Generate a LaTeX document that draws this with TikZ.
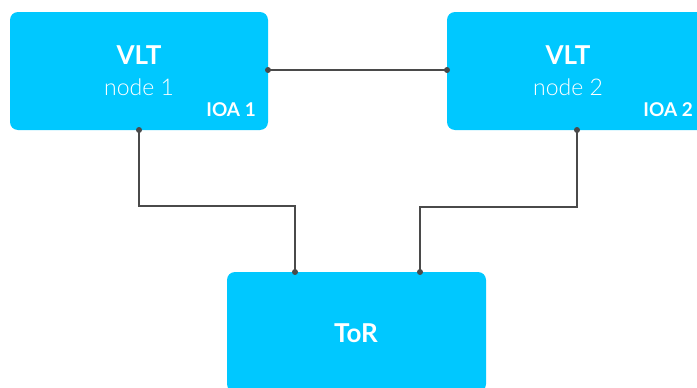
\documentclass[tikz,border=0pt]{standalone}
\usepackage{fontspec}
\setmainfont{Lato}
\newfontfamily\lightfont{Lato Light}
\definecolor{boxcyan}{HTML}{00C8FF}
\definecolor{wire}{HTML}{4A4A4A}
\begin{document}
\begin{tikzpicture}[x=1pt,y=-1pt,
  box/.style={fill=boxcyan,rounded corners=8pt,draw=none},
  link/.style={draw=wire,line width=1.4pt},
  dot/.style={circle,fill=wire,inner sep=0pt,minimum size=6pt},
  title/.style={text=white,font=\bfseries\fontsize{26}{30}\selectfont,inner sep=0pt},
  sub/.style={text=white,font=\lightfont\fontsize{23}{27}\selectfont,inner sep=0pt},
  ioa/.style={text=white,font=\bfseries\fontsize{19}{22}\selectfont,inner sep=0pt,anchor=east}]
\useasboundingbox (0,0) rectangle (697,388);
\clip (0,0) rectangle (697,388);
\fill[white] (0,0) rectangle (697,388);
\path[box] (10,12) rectangle (268,130);
\path[box] (447,12) rectangle (705,130);
\path[box] (227,272) rectangle (486,392);
\node[title] (t1) at (139,55) {VLT};
\node[sub] (s1) at (139,87) {node 1};
\node[ioa] (i1) at (256,110) {IOA 1};
\node[title] (t2) at (568,55) {VLT};
\node[sub] (s2) at (568,87) {node 2};
\node[ioa] (i2) at (693,110) {IOA 2};
\node[title] (tor) at (356,333) {ToR};
\coordinate (a1) at (268,70);
\coordinate (a2) at (447,70);
\coordinate (b1) at (139,130);
\coordinate (b2) at (577,130);
\coordinate (c1) at (295,272);
\coordinate (c2) at (420,272);
\draw[link] (a1) -- (a2);
\draw[link] (b1) |- (295,206) -- (c1);
\draw[link] (b2) |- (420,207) -- (c2);
\foreach \p in {a1,a2,b1,b2,c1,c2} \node[dot] at (\p) {};
\end{tikzpicture}
\end{document}
